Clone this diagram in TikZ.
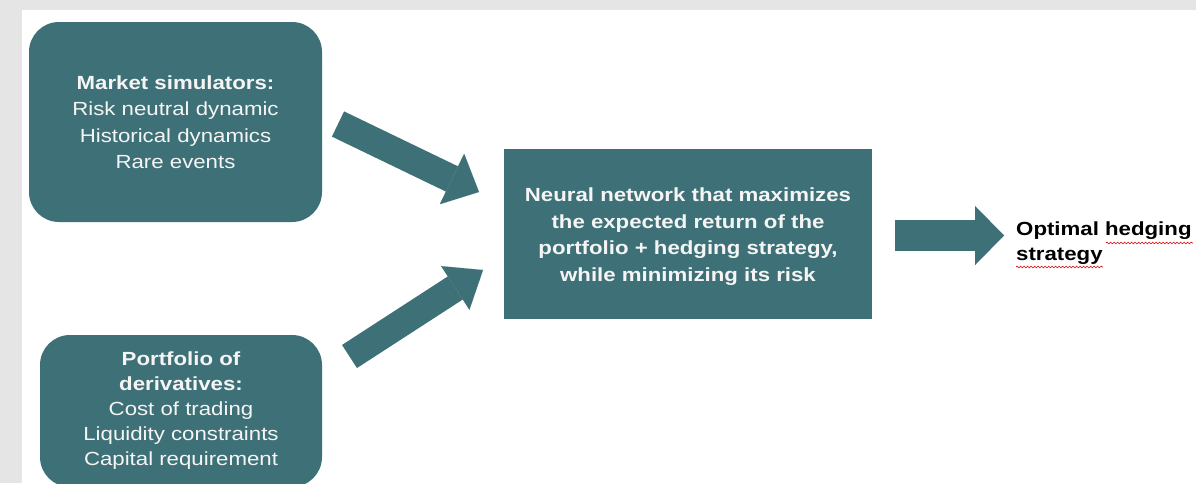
\documentclass[tikz,border=0pt]{standalone}
\usepackage{fontspec}
\setmainfont{Liberation Sans}[FakeStretch=1.17]
\usetikzlibrary{arrows.meta,decorations.pathmorphing}
\definecolor{tealbox}{RGB}{62,113,119}
\definecolor{framegray}{RGB}{229,229,229}
\definecolor{boxtext}{RGB}{245,245,245}
\begin{document}
\begin{tikzpicture}[x=1pt,y=-1pt,
  box/.style={fill=tealbox, text=boxtext, align=center, inner sep=0pt,
    font=\fontsize{19}{26.5}\selectfont},
  blockarrow/.style={draw=tealbox, line width=#1},
  squiggle/.style={draw=red!85!black, line width=0.6pt, decorate,
    decoration={snake, segment length=3.5pt, amplitude=0.9pt}}]
\useasboundingbox (0,0) rectangle (1196,483);
\clip (0,0) rectangle (1196,483);
\fill[framegray] (0,0) rectangle (1196,483);
\fill[white] (22,10) rectangle (1196,483);

\node[box, rounded corners=30pt, minimum width=293pt, minimum height=200pt] (sim) at (175.5,122)
  {\textbf{Market simulators:}\\Risk neutral dynamic\\Historical dynamics\\Rare events};
\node[box, rounded corners=30pt, minimum width=282pt, minimum height=152pt,
  font=\fontsize{19}{25}\selectfont] (port) at (181,411)
  {\textbf{Portfolio of}\\\textbf{derivatives:}\\Cost of trading\\Liquidity constraints\\Capital requirement};
\node[box, minimum width=368pt, minimum height=170pt] (nn) at (688,234)
  {\rule{0pt}{19.5pt}\textbf{Neural network that maximizes}\\\textbf{the expected return of the}\\\textbf{portfolio + hedging strategy,}\\\textbf{while minimizing its risk}};
\node[anchor=north west, inner sep=0pt, align=left, text=black,
  font=\fontsize{19}{25}\selectfont\bfseries] (out) at (1016,222)
  {Optimal hedging\\strategy};

\coordinate (a1s) at (338,124);   \coordinate (a1e) at (479,192);
\coordinate (a2s) at (349.5,356.5); \coordinate (a2e) at (483,270);
\coordinate (a3s) at (895,235.5); \coordinate (a3e) at (1004,235.5);
\draw[blockarrow=28pt, -{Triangle[length=30pt,width=56pt,line width=0.01pt]}] (a1s) -- (a1e);
\draw[blockarrow=27.5pt, -{Triangle[length=33pt,width=52pt,line width=0.01pt]}] (a2s) -- (a2e);
\draw[blockarrow=31pt, -{Triangle[length=29pt,width=59pt,line width=0.01pt]}] (a3s) -- (a3e);

\draw[squiggle] (1106,243) -- (1193,243);
\draw[squiggle] (1016,267) -- (1103,267);
\end{tikzpicture}
\end{document}
